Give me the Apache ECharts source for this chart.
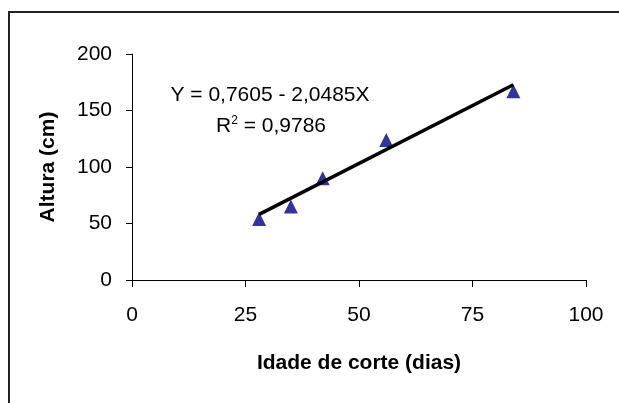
<!DOCTYPE html>
<html>
<head>
<meta charset="utf-8">
<script src="https://cdn.jsdelivr.net/npm/echarts@6/dist/echarts.min.js"></script>
<style>
html,body{margin:0;padding:0;background:#fff;}
#c{width:619px;height:403px;}
</style>
</head>
<body>
<div id="c"></div>
<script>
// Data
var idade = [28, 35, 42, 56, 84];
var altura = [54, 65, 90, 124, 167];
var trendX = [28, 84];
var trendY = [58.1, 172.8];
var xTicks = [0, 25, 50, 75, 100];
var yTicks = [0, 50, 100, 150, 200];
var xTitle = 'Idade de corte (dias)';
var yTitle = 'Altura (cm)';
var eqLine1 = 'Y = 0,7605 - 2,0485X';
var eqLine2 = 'R{sup|2} = 0,9786';

var FONT = '"Liberation Sans", Arial, sans-serif';
var chart = echarts.init(document.getElementById('c'), null, {renderer: 'canvas'});

var points = idade.map(function (x, i) { return [x, altura[i]]; });
var trend = trendX.map(function (x, i) { return [x, trendY[i]]; });

chart.setOption({
  animation: false,
  backgroundColor: '#fff',
  textStyle: {fontFamily: FONT, color: '#000'},
  grid: {left: 132, right: 33, top: 54, bottom: 123, containLabel: false},
  xAxis: {
    type: 'value', min: xTicks[0], max: xTicks[xTicks.length - 1], interval: 25,
    name: xTitle, nameLocation: 'middle', nameGap: 73,
    nameTextStyle: {fontFamily: FONT, fontSize: 21, fontWeight: 'bold', color: '#000'},
    axisLine: {show: true, lineStyle: {color: '#000', width: 1}},
    axisTick: {show: true, length: 7, lineStyle: {color: '#000'}},
    axisLabel: {fontFamily: FONT, fontSize: 21, color: '#000', margin: 25},
    splitLine: {show: false}
  },
  yAxis: {
    type: 'value', min: yTicks[0], max: yTicks[yTicks.length - 1], interval: 50,
    name: yTitle, nameLocation: 'middle', nameGap: 73, nameRotate: 90,
    nameTextStyle: {fontFamily: FONT, fontSize: 21, fontWeight: 'bold', color: '#000'},
    axisLine: {show: true, lineStyle: {color: '#000', width: 1}},
    axisTick: {show: true, length: 6, lineStyle: {color: '#000'}},
    axisLabel: {fontFamily: FONT, fontSize: 21, color: '#000', margin: 20},
    splitLine: {show: false}
  },
  graphic: [
    {type: 'rect', shape: {x: 9, y: 12, width: 700, height: 500}, style: {fill: 'none', stroke: '#222', lineWidth: 2}, silent: true},
    {type: 'text', x: 270, y: 95, style: {text: eqLine1, font: '21px ' + FONT, fill: '#000', textAlign: 'center', textVerticalAlign: 'middle'}},
    {type: 'text', x: 271, y: 126, style: {text: eqLine2, font: '21px ' + FONT, fill: '#000', align: 'center', verticalAlign: 'middle',
      rich: {sup: {fontSize: 12, verticalAlign: 'top', padding: [0, 0, 10, 0], fontFamily: FONT}}}}
  ],
  series: [
    {
      type: 'scatter', data: points, symbol: 'triangle', symbolSize: [14, 14],
      itemStyle: {color: '#000080'}, z: 2
    },
    {
      type: 'line', data: trend, symbol: 'none',
      lineStyle: {color: '#000', width: 3.5}, z: 3
    }
  ]
});
</script>
</body>
</html>
